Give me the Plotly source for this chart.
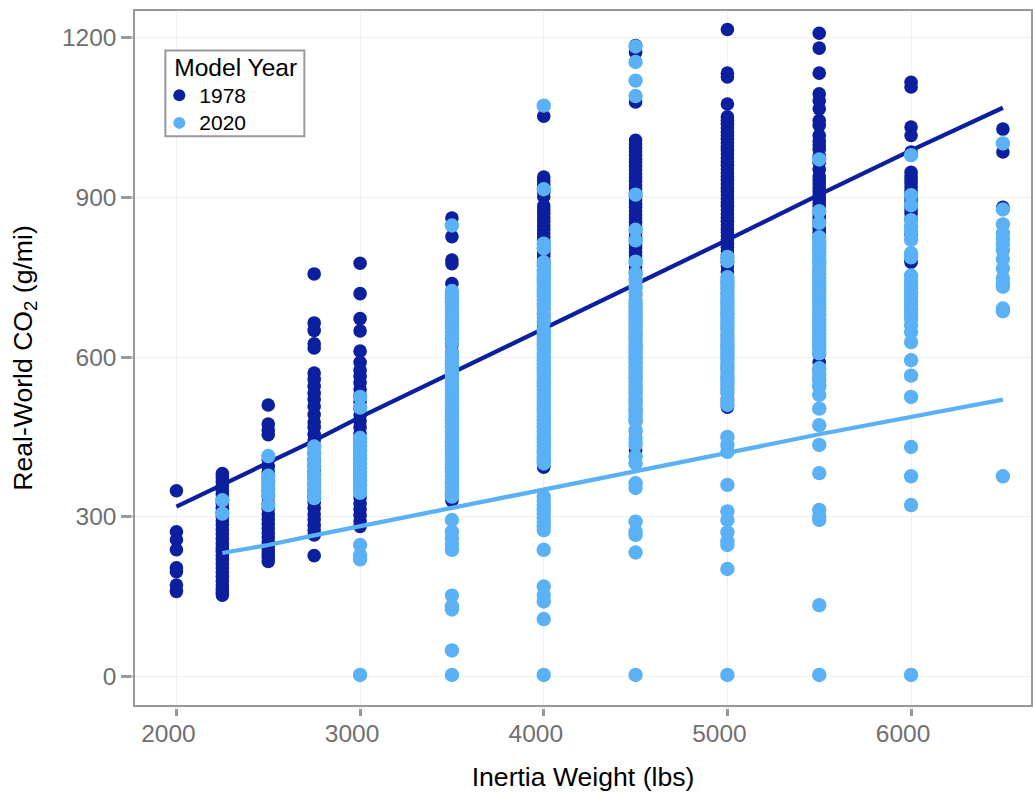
import plotly.graph_objects as go

DARK = "#0C209F"
LIGHT = "#5BB1F5"
GREY = "#707070"
BORDER = "#999999"

weights = [2000, 2250, 2500, 2750, 3000, 3500, 4000, 4500, 5000, 5500, 6000, 6500]

# Real-world CO2 (g/mi) for model year 1978, one list per inertia weight class
y78_2000 = [349, 272, 257, 238, 204, 197, 172, 160]
y78_2250 = [381, 374, 366, 358, 350, 342, 332, 325, 316, 308, 300, 292, 285, 276, 268, 259, 250, 242, 235, 228, 220, 212, 204, 196, 188, 180, 172, 165, 158, 153]
y78_2500 = [510, 474, 463, 454, 407, 395, 384, 372, 360, 349, 338, 326, 315, 305, 296, 287, 279, 270, 262, 253, 246, 238, 231, 224, 216]
y78_2750 = [756, 664, 650, 625, 617, 570, 558, 545, 532, 520, 507, 492, 478, 468, 455, 444, 432, 420, 408, 396, 385, 373, 362, 350, 338, 327, 316, 305, 295, 284, 275, 266, 227]
y78_3000 = [776, 719, 672, 649, 611, 590, 575, 564, 552, 540, 528, 516, 503, 491, 480, 468, 456, 444, 432, 420, 408, 396, 384, 372, 360, 348, 336, 325, 314, 303, 292, 282]
y78_3500 = [861, 826, 782, 775, 738, 718, 705, 690, 676, 664, 650, 636, 622, 610, 596, 582, 570, 556, 544, 530, 518, 505, 492, 478, 465, 452, 440, 428, 415, 402, 390, 378, 365, 352, 340, 330]
y78_4000 = [1052, 938, 931, 924, 916, 909, 901, 884, 877, 870, 862, 855, 847, 840, 833, 825, 818, 811, 803, 796, 789, 782, 774, 767, 760, 750, 735, 720, 705, 690, 675, 660, 645, 630, 615, 600, 585, 570, 555, 540, 525, 510, 495, 480, 465, 450, 435, 420, 406, 393]
y78_4500 = [1185, 1172, 1079, 1007, 1000, 993, 986, 979, 972, 965, 958, 951, 944, 937, 930, 923, 916, 909, 902, 895, 888, 881, 874, 867, 860, 853, 846, 839, 832, 825, 818, 811, 804, 797, 790, 783, 776, 769, 762, 755, 745, 730, 715, 700, 680, 660, 640, 620, 600, 580, 560, 540, 520, 500, 480, 460, 440, 425, 413]
y78_5000 = [1215, 1133, 1126, 1075, 1051, 1044, 1037, 1030, 1023, 1016, 1009, 1002, 995, 988, 981, 974, 967, 960, 953, 946, 939, 932, 925, 918, 911, 904, 897, 890, 883, 876, 869, 862, 855, 848, 841, 834, 827, 820, 813, 806, 799, 792, 785, 778, 771, 760, 740, 720, 700, 680, 660, 640, 620, 600, 580, 560, 540, 522, 514, 506]
y78_5500 = [1208, 1180, 1133, 1094, 1081, 1066, 1044, 1035, 1016, 1005, 998, 990, 978, 965, 952, 940, 933, 926, 918, 911, 904, 897, 890, 883, 876, 869, 862, 855, 848, 841, 834, 827, 820, 800, 780, 760, 740, 720, 700, 680, 660, 640, 620, 605, 590, 575, 560, 544]
y78_6000 = [1116, 1107, 1032, 1016, 985, 947, 940, 933, 926, 919, 912, 905, 898, 891, 884, 877, 870, 860, 845, 830, 790, 782, 778]
y78_6500 = [1028, 985, 881]

# Real-world CO2 (g/mi) for model year 2020
y20_2250 = [331, 306]
y20_2500 = [414, 377, 366, 354, 341, 322]
y20_2750 = [432, 420, 405, 395, 380, 370, 358, 345, 335]
y20_3000 = [525, 505, 448, 440, 432, 424, 416, 408, 400, 392, 384, 376, 368, 360, 352, 345, 247, 228, 220, 3]
y20_3500 = [847, 724, 717, 710, 703, 696, 689, 682, 675, 668, 661, 654, 647, 640, 633, 626, 608, 601, 594, 587, 580, 573, 566, 559, 552, 545, 538, 531, 524, 517, 510, 503, 496, 489, 482, 475, 468, 461, 454, 447, 440, 433, 426, 419, 412, 405, 398, 391, 384, 377, 370, 363, 356, 349, 342, 338, 294, 272, 260, 248, 238, 152, 132, 126, 49, 3]
y20_4000 = [1072, 915, 813, 804, 778, 771, 763, 756, 749, 742, 735, 728, 721, 714, 707, 700, 694, 680, 666, 650, 643, 636, 629, 622, 615, 608, 601, 594, 587, 580, 573, 566, 559, 552, 545, 538, 531, 524, 517, 510, 503, 496, 489, 482, 475, 468, 461, 454, 447, 440, 433, 426, 419, 412, 406, 400, 338, 330, 322, 314, 306, 298, 290, 282, 275, 238, 169, 153, 141, 108, 3]
y20_4500 = [1183, 1154, 1119, 1090, 905, 839, 819, 779, 757, 745, 732, 720, 707, 700, 693, 686, 679, 672, 665, 658, 651, 644, 637, 630, 623, 616, 609, 602, 595, 588, 581, 574, 567, 560, 553, 546, 539, 532, 525, 518, 511, 504, 497, 490, 483, 479, 463, 448, 435, 413, 400, 363, 354, 291, 272, 266, 233, 3]
y20_5000 = [788, 780, 750, 743, 736, 729, 722, 715, 708, 701, 694, 687, 680, 673, 666, 659, 652, 645, 638, 631, 624, 617, 610, 603, 596, 589, 582, 575, 568, 561, 554, 547, 540, 532, 519, 510, 450, 435, 422, 360, 310, 294, 271, 254, 247, 202, 3]
y20_5500 = [971, 874, 852, 825, 818, 811, 804, 797, 790, 783, 776, 769, 762, 755, 748, 741, 734, 727, 720, 713, 706, 699, 692, 685, 678, 671, 664, 657, 650, 643, 636, 629, 622, 615, 607, 579, 568, 556, 545, 529, 503, 472, 435, 382, 313, 300, 294, 134, 3]
y20_6000 = [979, 904, 885, 857, 845, 835, 820, 795, 787, 753, 745, 737, 729, 721, 713, 705, 697, 689, 681, 672, 660, 647, 628, 594, 565, 525, 431, 376, 322, 3]
y20_6500 = [1001, 877, 849, 832, 822, 812, 800, 784, 766, 748, 738, 732, 691, 686, 376]

columns_78 = [(2000, y78_2000), (2250, y78_2250), (2500, y78_2500), (2750, y78_2750), (3000, y78_3000), (3500, y78_3500),
              (4000, y78_4000), (4500, y78_4500), (5000, y78_5000), (5500, y78_5500), (6000, y78_6000), (6500, y78_6500)]
columns_20 = [(2250, y20_2250), (2500, y20_2500), (2750, y20_2750), (3000, y20_3000), (3500, y20_3500), (4000, y20_4000),
              (4500, y20_4500), (5000, y20_5000), (5500, y20_5500), (6000, y20_6000), (6500, y20_6500)]

# Fit lines
fit_78 = [319, 360, 402, 443, 487, 570, 652, 735, 820, 905, 988, 1068]
fit_20 = [232, 247, 265, 282, 317, 350, 385, 420, 455, 487, 520]


def flatten(columns):
    xs, ys = [], []
    for w, vals in columns:
        xs += [w] * len(vals)
        ys += vals
    return xs, ys


x78, v78 = flatten(columns_78)
x20, v20 = flatten(columns_20)

entry_style = '<span style="font-size:21px">%s</span>'
title_style = '<span style="font-size:24.6px">\u00a0Model Year</span>'

fig = go.Figure()
fig.add_trace(go.Scatter(x=x78, y=v78, mode="markers", name=entry_style % "1978",
                         marker=dict(color=DARK, size=13.6, line=dict(width=0))))
fig.add_trace(go.Scatter(x=weights, y=fit_78, mode="lines", showlegend=False,
                         line=dict(color=DARK, width=4.3)))
fig.add_trace(go.Scatter(x=x20, y=v20, mode="markers", name=entry_style % "2020",
                         marker=dict(color=LIGHT, size=14.4, line=dict(width=0))))
fig.add_trace(go.Scatter(x=weights[1:], y=fit_20, mode="lines", showlegend=False,
                         line=dict(color=LIGHT, width=4.3)))

axis_common = dict(showgrid=True, gridcolor="#F0F0F0", gridwidth=1, zeroline=False,
                   showline=True, linecolor=BORDER, linewidth=2.4, mirror=True,
                   ticks="outside", tickwidth=3, tickcolor=BORDER,
                   tickfont=dict(color=GREY, size=24.5))

fig.update_layout(
    width=1033, height=792,
    margin=dict(l=135.3, r=0, t=10.5, b=86.5),
    paper_bgcolor="white", plot_bgcolor="white",
    font=dict(family="Liberation Sans, Arial, sans-serif", color="black"),
    xaxis=dict(axis_common, range=[1774.4, 6653], tickvals=[2000, 3000, 4000, 5000, 6000],
               ticklen=8.5, ticklabelshift=-8, ticklabelstandoff=-3,
               title=dict(text="Inertia Weight (lbs)", font=dict(size=26.6), standoff=26)),
    yaxis=dict(axis_common, range=[-53.4, 1249.7], tickvals=[0, 300, 600, 900, 1200],
               ticklen=11.5,
               title=dict(text="Real-World CO<sub>2</sub> (g/mi)", font=dict(size=26.6), standoff=22)),
    legend=dict(x=0.0316, y=0.9361, xanchor="left", yanchor="top",
                bgcolor="rgba(0,0,0,0)", bordercolor="rgba(0,0,0,0)", borderwidth=2,
                title=dict(text=title_style, font=dict(size=14.6)),
                font=dict(size=19), itemsizing="constant", itemwidth=30, indentation=-6,
                traceorder="normal"),
    shapes=[
        # thin white gaps between the panel border and the tick marks
        dict(type="line", xref="paper", yref="paper", x0=-0.0034, x1=-0.0034, y0=-0.08, y1=1.02,
             line=dict(color="white", width=1), layer="above"),
        dict(type="line", xref="paper", yref="paper", x0=-0.05, x1=1.0, y0=-0.0045, y1=-0.0045,
             line=dict(color="white", width=1.6), layer="above"),
        # frame behind the legend
        dict(type="rect", xref="paper", yref="paper", x0=0.0339, x1=0.1890, y0=0.8194, y1=0.9432,
             fillcolor="white", line=dict(color=BORDER, width=2), layer="above"),
    ],
)

fig.write_html("out.html", config=dict(displayModeBar=False),
               post_script="document.body.style.margin='0';document.body.style.overflow='hidden';")
